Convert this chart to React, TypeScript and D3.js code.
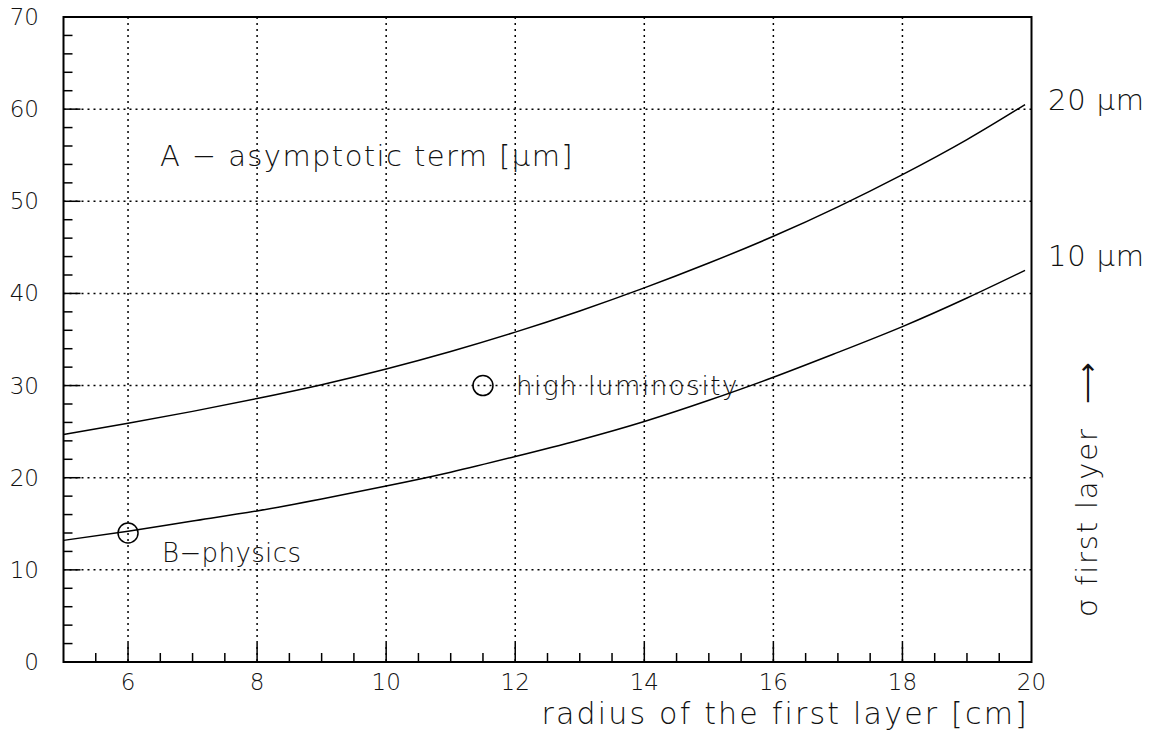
import React from "react";
import * as d3 from "d3";

const radii = [5, 6, 7, 8, 9, 10, 11, 12, 13, 14, 15, 16, 17, 18, 19, 19.9];
const sigma20 = [24.7, 25.9, 27.2, 28.6, 30.1, 31.8, 33.7, 35.8, 38.1, 40.6, 43.3, 46.2, 49.4, 52.9, 56.7, 60.5];
const sigma10 = [13.2, 14.2, 15.3, 16.4, 17.7, 19.1, 20.6, 22.3, 24.1, 26.1, 28.4, 30.9, 33.6, 36.4, 39.5, 42.5];
const xTicks = [6, 8, 10, 12, 14, 16, 18, 20];
const yTicks = [0, 10, 20, 30, 40, 50, 60, 70];
const points = [
  { r: 6, a: 14, label: "B\u2212physics" },
  { r: 11.5, a: 30, label: "high luminosity" },
];

const W = 1152, H = 737;
const L = 63.5, R = 1031.5, T = 17, B = 662;
const FONT = "'DejaVu Sans', sans-serif";

export default function App() {
  const x = d3.scaleLinear().domain([5, 20]).range([L, R]);
  const y = d3.scaleLinear().domain([0, 70]).range([B, T]);
  const line = d3
    .line<number>()
    .x((_, i) => x(radii[i]))
    .y((d) => y(d))
    .curve(d3.curveNatural);
  const xMinor = d3.range(5.5, 20, 0.5);
  const yMinor = d3.range(2, 70, 2);
  const textStyle = { fontFamily: FONT, fontWeight: 200, fill: "#111" } as const;

  return (
    <svg width={W} height={H} style={{ position: "absolute", left: 0, top: 0, background: "#fff" }}>
      {/* grid */}
      {xTicks.filter((t) => t < 20).map((t) => (
        <line key={"gx" + t} x1={x(t)} x2={x(t)} y1={T} y2={B} stroke="#000" strokeWidth={1.5} strokeDasharray="2,4" />
      ))}
      {yTicks.filter((t) => t > 0 && t < 70).map((t) => (
        <line key={"gy" + t} x1={L} x2={R} y1={y(t)} y2={y(t)} stroke="#000" strokeWidth={1.5} strokeDasharray="2,4" />
      ))}
      {/* ticks */}
      {xMinor.map((t) => (
        <line key={"xm" + t} x1={x(t)} x2={x(t)} y1={B} y2={B - (t % 2 === 0 ? 19 : 9)} stroke="#000" strokeWidth={1.5} />
      ))}
      {yMinor.map((t) => (
        <line key={"ym" + t} x1={L} x2={L + (t % 10 === 0 ? 17 : 9)} y1={y(t)} y2={y(t)} stroke="#000" strokeWidth={1.5} />
      ))}
      {/* frame */}
      <rect x={L} y={T} width={R - L} height={B - T} fill="none" stroke="#000" strokeWidth={2} />
      {/* curves */}
      <path d={line(sigma20) || ""} fill="none" stroke="#000" strokeWidth={1.5} />
      <path d={line(sigma10) || ""} fill="none" stroke="#000" strokeWidth={1.5} />
      {/* points */}
      {points.map((p) => (
        <circle key={p.label} cx={x(p.r)} cy={y(p.a)} r={10} fill="none" stroke="#000" strokeWidth={1.5} />
      ))}
      <text x={162} y={562} fontSize={26} letterSpacing={0.4} style={textStyle}>{points[0].label}</text>
      <text x={516} y={395} fontSize={26} letterSpacing={1.6} style={textStyle}>{points[1].label}</text>
      {/* tick labels */}
      {xTicks.map((t) => (
        <text key={"xl" + t} x={x(t)} y={690} fontSize={23} textAnchor="middle" style={textStyle}>{t}</text>
      ))}
      {yTicks.map((t) => (
        <text key={"yl" + t} x={39} y={y(t) + 8} fontSize={23} textAnchor="end" style={textStyle}>{t}</text>
      ))}
      {/* titles */}
      <text x={1029} y={724} fontSize={30} letterSpacing={2.2} textAnchor="end" style={textStyle}>radius of the first layer [cm]</text>
      <text x={160} y={166} fontSize={29} letterSpacing={1.4} style={textStyle}>A &#8722; asymptotic term [&#956;m]</text>
      <text x={1048} y={110} fontSize={29} letterSpacing={0.8} style={textStyle}>20 &#956;m</text>
      <text x={1048} y={266} fontSize={29} letterSpacing={0.8} style={textStyle}>10 &#956;m</text>
      <text transform={`translate(1097,617) rotate(-90)`} fontSize={29} letterSpacing={1.8} style={textStyle}>
        &#963; first layer <tspan dx={12}>&#10230;</tspan>
      </text>
    </svg>
  );
}
